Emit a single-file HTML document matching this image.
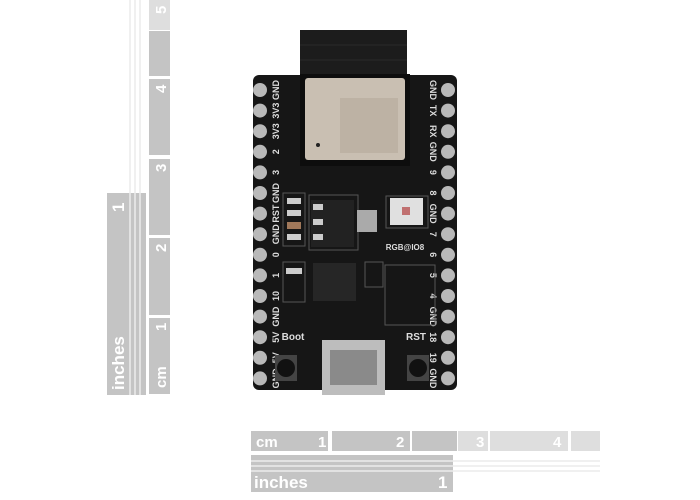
<!DOCTYPE html><html><head><style>body{margin:0;background:#fff}svg{display:block}</style></head><body>
<svg width="700" height="500" viewBox="0 0 700 500" xmlns="http://www.w3.org/2000/svg" font-family="Liberation Sans, sans-serif">
<!-- vertical ruler -->
<g fill="#c4c4c4">
<rect x="149" y="0" width="21" height="30" fill="#dedede"/>
<rect x="149" y="31" width="21" height="45"/>
<rect x="149" y="79" width="21" height="76"/>
<rect x="149" y="159" width="21" height="76"/>
<rect x="149" y="238" width="21" height="77"/>
<rect x="149" y="318" width="21" height="76"/>
<rect x="107" y="193" width="39" height="202"/>
</g>
<g stroke="#fff" stroke-width="1">
<line x1="130" y1="193" x2="130" y2="395"/><line x1="135" y1="193" x2="135" y2="395"/><line x1="140" y1="193" x2="140" y2="395"/>
</g>
<g stroke="#e2e2e2" stroke-width="1">
<line x1="130" y1="0" x2="130" y2="193"/><line x1="135" y1="0" x2="135" y2="193"/><line x1="140" y1="0" x2="140" y2="193"/>
</g>
<g fill="#fff" font-size="15" font-weight="bold">
<text transform="translate(166,388) rotate(-90)">cm</text>
<text transform="translate(166,331) rotate(-90)">1</text>
<text transform="translate(166,252) rotate(-90)">2</text>
<text transform="translate(166,172) rotate(-90)">3</text>
<text transform="translate(166,93) rotate(-90)">4</text>
<text transform="translate(166,14) rotate(-90)">5</text>
<text transform="translate(124,390) rotate(-90)" font-size="17">inches</text>
<text transform="translate(124,212) rotate(-90)" font-size="17">1</text>
</g>
<!-- horizontal ruler -->
<g fill="#c4c4c4">
<rect x="251" y="431" width="77" height="20"/>
<rect x="332" y="431" width="78" height="20"/>
<rect x="412" y="431" width="45" height="20"/>
<rect x="458" y="431" width="30" height="20" fill="#dedede"/>
<rect x="490" y="431" width="78" height="20" fill="#dedede"/>
<rect x="571" y="431" width="29" height="20" fill="#dedede"/>
<rect x="251" y="455" width="202" height="37"/>
</g>
<g stroke="#fff"><line x1="251" y1="461" x2="453" y2="461"/><line x1="251" y1="466" x2="453" y2="466"/><line x1="251" y1="471" x2="453" y2="471"/></g>
<g stroke="#e2e2e2"><line x1="453" y1="461" x2="600" y2="461"/><line x1="453" y1="466" x2="600" y2="466"/><line x1="453" y1="471" x2="600" y2="471"/></g>
<g fill="#fff" font-size="15" font-weight="bold">
<text x="256" y="447">cm</text><text x="318" y="447">1</text><text x="396" y="447">2</text><text x="476" y="447">3</text><text x="553" y="447">4</text>
<text x="254" y="488" font-size="17">inches</text><text x="438" y="488" font-size="17">1</text>
</g>
<!-- board -->
<rect x="300" y="30" width="107" height="50" fill="#1c1c1c"/>
<g stroke="#2a2a2a"><line x1="300" y1="45" x2="407" y2="45"/><line x1="300" y1="60" x2="407" y2="60"/></g>
<rect x="253" y="75" width="204" height="315" rx="6" fill="#161616"/>
<rect x="300" y="74" width="110" height="92" fill="#0d0d0d"/>
<rect x="305" y="78" width="100" height="82" rx="3" fill="#c9bfb2"/>
<rect x="340" y="98" width="58" height="55" fill="#bdb2a4"/>
<circle cx="318" cy="145" r="2" fill="#222"/>
<g id="pins">
<g fill="#b9b9b9">
<circle cx="260" cy="90" r="7"/><circle cx="260" cy="110.6" r="7"/><circle cx="260" cy="131.2" r="7"/><circle cx="260" cy="151.8" r="7"/><circle cx="260" cy="172.4" r="7"/><circle cx="260" cy="193" r="7"/><circle cx="260" cy="213.6" r="7"/><circle cx="260" cy="234.2" r="7"/><circle cx="260" cy="254.8" r="7"/><circle cx="260" cy="275.4" r="7"/><circle cx="260" cy="296" r="7"/><circle cx="260" cy="316.6" r="7"/><circle cx="260" cy="337.2" r="7"/><circle cx="260" cy="357.8" r="7"/><circle cx="260" cy="378.4" r="7"/>
<circle cx="448" cy="90" r="7"/><circle cx="448" cy="110.6" r="7"/><circle cx="448" cy="131.2" r="7"/><circle cx="448" cy="151.8" r="7"/><circle cx="448" cy="172.4" r="7"/><circle cx="448" cy="193" r="7"/><circle cx="448" cy="213.6" r="7"/><circle cx="448" cy="234.2" r="7"/><circle cx="448" cy="254.8" r="7"/><circle cx="448" cy="275.4" r="7"/><circle cx="448" cy="296" r="7"/><circle cx="448" cy="316.6" r="7"/><circle cx="448" cy="337.2" r="7"/><circle cx="448" cy="357.8" r="7"/><circle cx="448" cy="378.4" r="7"/>
</g></g>
<g fill="#ddd" font-size="9" font-weight="bold" text-anchor="middle">
<text transform="translate(279,90) rotate(-90)">GND</text><text transform="translate(279,110.6) rotate(-90)">3V3</text><text transform="translate(279,131.2) rotate(-90)">3V3</text><text transform="translate(279,151.8) rotate(-90)">2</text><text transform="translate(279,172.4) rotate(-90)">3</text><text transform="translate(279,193) rotate(-90)">GND</text><text transform="translate(279,213.6) rotate(-90)">RST</text><text transform="translate(279,234.2) rotate(-90)">GND</text><text transform="translate(279,254.8) rotate(-90)">0</text><text transform="translate(279,275.4) rotate(-90)">1</text><text transform="translate(279,296) rotate(-90)">10</text><text transform="translate(279,316.6) rotate(-90)">GND</text><text transform="translate(279,337.2) rotate(-90)">5V</text><text transform="translate(279,357.8) rotate(-90)">5V</text><text transform="translate(279,378.4) rotate(-90)">GND</text>
<text transform="translate(430,90) rotate(90)">GND</text><text transform="translate(430,110.6) rotate(90)">TX</text><text transform="translate(430,131.2) rotate(90)">RX</text><text transform="translate(430,151.8) rotate(90)">GND</text><text transform="translate(430,172.4) rotate(90)">9</text><text transform="translate(430,193) rotate(90)">8</text><text transform="translate(430,213.6) rotate(90)">GND</text><text transform="translate(430,234.2) rotate(90)">7</text><text transform="translate(430,254.8) rotate(90)">6</text><text transform="translate(430,275.4) rotate(90)">5</text><text transform="translate(430,296) rotate(90)">4</text><text transform="translate(430,316.6) rotate(90)">GND</text><text transform="translate(430,337.2) rotate(90)">18</text><text transform="translate(430,357.8) rotate(90)">19</text><text transform="translate(430,378.4) rotate(90)">GND</text>
<text x="293" y="340" font-size="10">Boot</text><text x="416" y="340" font-size="10">RST</text><text x="405" y="250" font-size="8">RGB@IO8</text>
</g>
<!-- components -->
<g fill="none" stroke="#555" stroke-width="1">
<rect x="283" y="193" width="22" height="53"/><rect x="309" y="195" width="49" height="55"/><rect x="386" y="196" width="42" height="32"/>
<rect x="283" y="262" width="22" height="40"/><rect x="385" y="265" width="50" height="60"/><rect x="365" y="262" width="18" height="25"/>
</g>
<rect x="311" y="200" width="43" height="47" fill="#222"/>
<rect x="357" y="210" width="20" height="22" fill="#aaa"/>
<rect x="390" y="198" width="33" height="27" fill="#e0e0e0"/><rect x="402" y="207" width="8" height="8" fill="#c07070"/>
<rect x="313" y="263" width="43" height="38" fill="#262626"/>
<g fill="#ccc"><rect x="287" y="198" width="14" height="6"/><rect x="287" y="210" width="14" height="6"/><rect x="287" y="234" width="14" height="6"/><rect x="313" y="204" width="10" height="6"/><rect x="313" y="219" width="10" height="6"/><rect x="313" y="234" width="10" height="6"/><rect x="286" y="268" width="16" height="6"/></g>
<rect x="287" y="222" width="14" height="7" fill="#a0785a"/>
<rect x="322" y="340" width="63" height="55" fill="#bdbdbd"/><rect x="330" y="350" width="47" height="35" fill="#8a8a8a"/>
<rect x="275" y="355" width="22" height="26" fill="#444"/><circle cx="286" cy="368" r="9" fill="#111"/>
<rect x="407" y="355" width="22" height="26" fill="#444"/><circle cx="418" cy="368" r="9" fill="#111"/>
</svg>
</body></html>
